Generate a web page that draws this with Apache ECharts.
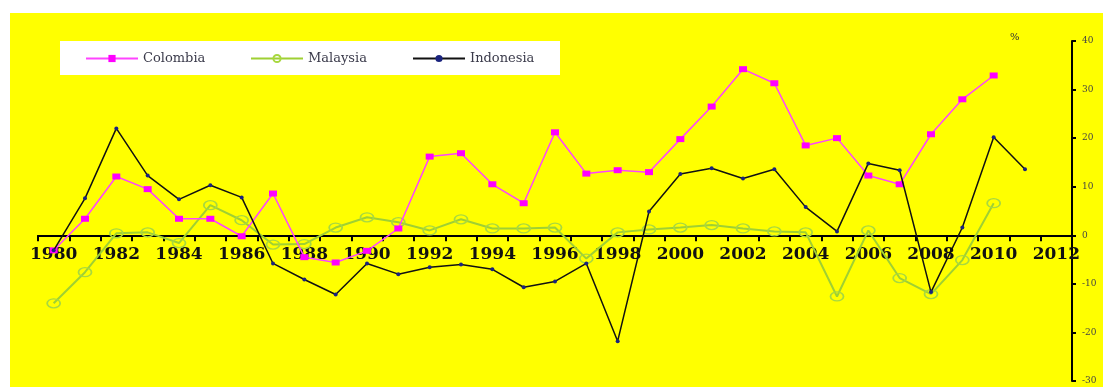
<!DOCTYPE html>
<html>
<head>
<meta charset="utf-8">
<script src="https://cdn.jsdelivr.net/npm/echarts@6/dist/echarts.min.js"></script>
<style>
  html, body { margin: 0; padding: 0; background: #ffffff; }
  #chart { width: 1103px; height: 387px; }
</style>
</head>
<body>
<div id="chart"></div>
<script>
// Annual growth rates (%), 1980-2012
const years = ['1980','1981','1982','1983','1984','1985','1986','1987','1988','1989',
  '1990','1991','1992','1993','1994','1995','1996','1997','1998','1999',
  '2000','2001','2002','2003','2004','2005','2006','2007','2008','2009',
  '2010','2011','2012'];

const colombia = [-3.1, 3.4, 12.1, 9.5, 3.4, 3.4, -0.2, 8.6, -4.5, -5.6,
  -3.2, 1.4, 16.2, 16.9, 10.5, 6.6, 21.2, 12.7, 13.4, 13.0,
  19.8, 26.5, 34.2, 31.3, 18.5, 20.0, 12.3, 10.5, 20.8, 28.0,
  32.9, null, null];

const malaysia = [-14.0, -7.6, 0.4, 0.6, -1.6, 6.2, 3.1, -1.9, -1.8, 1.6,
  3.7, 2.7, 1.0, 3.3, 1.4, 1.4, 1.6, -4.8, 0.6, 1.2,
  1.6, 2.1, 1.4, 0.8, 0.6, -12.6, 1.0, -8.8, -12.1, -5.1,
  6.6, null, null];

const indonesia = [-3.1, 7.6, 22.0, 12.3, 7.4, 10.3, 7.8, -5.8, -9.1, -12.2,
  -5.8, -8.0, -6.6, -6.0, -7.0, -10.7, -9.5, -5.8, -21.8, 4.9,
  12.6, 13.8, 11.7, 13.6, 5.8, 0.8, 14.8, 13.4, -11.7, 1.6,
  20.2, 13.6, null];

const seriesNames = ['Colombia', 'Malaysia', 'Indonesia'];

// value range of the right-hand axis
const yMin = -30, yMax = 40, yStep = 10;

// plot area (px)
const gridTop = 41, gridBottom = 6, chartHeight = 387;
const plotHeight = chartHeight - gridTop - gridBottom;
// lift the category axis from the bottom edge up to the zero line
const zeroLift = plotHeight * (0 - yMin) / (yMax - yMin);

const chart = echarts.init(document.getElementById('chart'), null, { renderer: 'canvas' });

const legendFont = { fontFamily: 'DejaVu Serif', fontSize: 13, color: '#3a3a4a' };
function legendAt(name, x) {
  return {
    data: [name],
    left: x,
    top: 52,
    padding: 0,
    itemWidth: 52,
    itemHeight: 9,
    textStyle: legendFont,
    selectedMode: false
  };
}

chart.setOption({
  backgroundColor: '#ffffff',
  animation: false,
  graphic: [
    { type: 'rect', z: -100, shape: { x: 10, y: 13, width: 1093, height: 374 },
      style: { fill: '#ffff00' }, silent: true },
    { type: 'rect', z: -90, shape: { x: 60, y: 41, width: 500, height: 34 },
      style: { fill: '#ffffff' }, silent: true }
  ],
  title: {
    text: '%',
    left: 1005,
    top: 27,
    textStyle: { fontFamily: 'DejaVu Serif', fontSize: 10, fontWeight: 'normal', color: '#333' }
  },
  legend: [
    legendAt(seriesNames[0], 85),
    legendAt(seriesNames[1], 250),
    legendAt(seriesNames[2], 412)
  ],
  grid: { left: 38, right: 31, top: gridTop, bottom: gridBottom, containLabel: false, outerBoundsMode: 'none' },
  xAxis: {
    type: 'category',
    data: years,
    position: 'bottom',
    offset: -zeroLift,
    boundaryGap: true,
    axisLine: { onZero: false, lineStyle: { color: '#000', width: 2 } },
    axisTick: { show: true, interval: 0, length: 6, lineStyle: { color: '#000', width: 2 } },
    axisLabel: {
      interval: 1,
      margin: 11,
      fontFamily: 'DejaVu Serif',
      fontWeight: 'bold',
      fontSize: 17,
      color: '#111'
    },
    splitLine: { show: false }
  },
  yAxis: {
    type: 'value',
    position: 'right',
    min: yMin,
    max: yMax,
    interval: yStep,
    axisLine: { show: true, lineStyle: { color: '#000', width: 2 } },
    axisTick: { show: true, length: 4, lineStyle: { color: '#000', width: 2 } },
    axisLabel: { margin: 10, fontFamily: 'DejaVu Serif', fontSize: 9, color: '#444' },
    splitLine: { show: false }
  },
  series: [
    {
      name: seriesNames[0],
      type: 'line',
      data: colombia,
      symbol: 'rect',
      symbolSize: [8, 6],
      lineStyle: { color: '#ff44ff', width: 1.5 },
      itemStyle: { color: '#ff00ff' },
      z: 3
    },
    {
      name: seriesNames[1],
      type: 'line',
      data: malaysia,
      symbol: 'circle',
      symbolSize: [13, 9],
      lineStyle: { color: '#9fd033', width: 2 },
      itemStyle: { color: 'rgba(255,255,0,0)', borderColor: '#a8d840', borderWidth: 1.5 },
      z: 2
    },
    {
      name: seriesNames[2],
      type: 'line',
      data: indonesia,
      symbol: 'circle',
      symbolSize: 4,
      lineStyle: { color: '#111', width: 1.5 },
      itemStyle: { color: '#1a237e' },
      z: 4
    }
  ]
});
</script>
</body>
</html>
